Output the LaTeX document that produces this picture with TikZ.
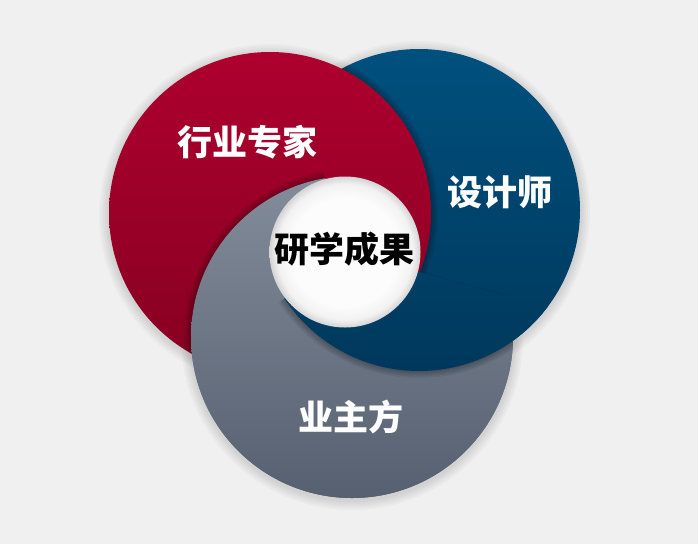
\documentclass[tikz,border=0pt]{standalone}
\usepackage{fontspec}
\newfontfamily\cjk{Noto Sans CJK SC}
\definecolor{bgc}{RGB}{240,240,240}
\definecolor{redT}{RGB}{174,0,46}
\definecolor{redB}{RGB}{134,0,34}
\definecolor{bluT}{RGB}{0,80,126}
\definecolor{bluB}{RGB}{0,56,92}
\definecolor{gryT}{RGB}{130,140,155}
\definecolor{gryB}{RGB}{86,96,112}
\definecolor{holeA}{RGB}{252,252,252}
\definecolor{holeB}{RGB}{242,242,242}
\definecolor{holeC}{RGB}{212,212,214}
\pgfdeclareradialshading{hole}{\pgfpoint{0bp}{0bp}}{color(0bp)=(holeA); color(18bp)=(holeA); color(22.5bp)=(holeB); color(25bp)=(holeC); color(50bp)=(holeC)}
\newcommand\redcirc{\path[redfill] (R) circle[radius=161pt];}
\newcommand\blucirc{\path[blufill] (B) circle[radius=161pt];}
\newcommand\grycirc{\path[gryfill] (G) circle[radius=161pt];}
\newcommand\shadowof[1]{\foreach \d in {1,2.5,4,5.5,7}{\fill[black,opacity=0.06] (#1) circle[radius={161pt+\d pt}];}}
\begin{document}
\begin{tikzpicture}[x=1pt,y=-1pt,
  redfill/.style={top color=redT,bottom color=redB},
  blufill/.style={top color=bluT,bottom color=bluB},
  gryfill/.style={top color=gryT,bottom color=gryB},
  lbl/.style={font=\cjk\bfseries\fontsize{35}{35}\selectfont,text=white,inner sep=0pt}]
\useasboundingbox (0,0) rectangle (698,544);
\fill[bgc] (0,0) rectangle (698,544);
\coordinate (W) at (345,252);
\coordinate (R) at (270,213);
\coordinate (B) at (419,210);
\coordinate (G) at (352,337);
% soft outer shadow
\foreach \c in {R,B,G}{
  \foreach \d in {2,4,6,8,10}{
    \fill[black,opacity=0.022] ([yshift=-2pt]\c) circle[radius={161pt+\d pt}];
  }
}
% base layer: red > blue > gray
\grycirc
\blucirc
\begin{scope}\clip (B) circle[radius=161pt]; \shadowof{R}\end{scope}
\redcirc
% gray above red on the left and bottom
\begin{scope}
\clip (W) -- +(105:600pt) -- +(160:600pt) -- +(215:600pt) -- +(280:600pt) -- +(342.5:600pt) -- cycle;
\begin{scope}\clip (R) circle[radius=161pt]; \shadowof{G}\end{scope}
\grycirc
\end{scope}
% blue above gray at the bottom
\begin{scope}
\clip (W) -- +(217.5:600pt) -- +(281:600pt) -- +(345:600pt) -- cycle;
\begin{scope}\clip (G) circle[radius=161pt]; \shadowof{B}\end{scope}
\blucirc
\end{scope}
% central hole
\shade[shading=hole] (W) circle[radius=75.5pt];
% labels
\node[lbl] (t1) at (247,142) {行业专家};
\node[lbl] (t2) at (500,192) {设计师};
\node[lbl] (t3) at (351,417) {业主方};
\node[lbl,text=black] (t0) at (344,249) {研学成果};
\end{tikzpicture}
\end{document}
